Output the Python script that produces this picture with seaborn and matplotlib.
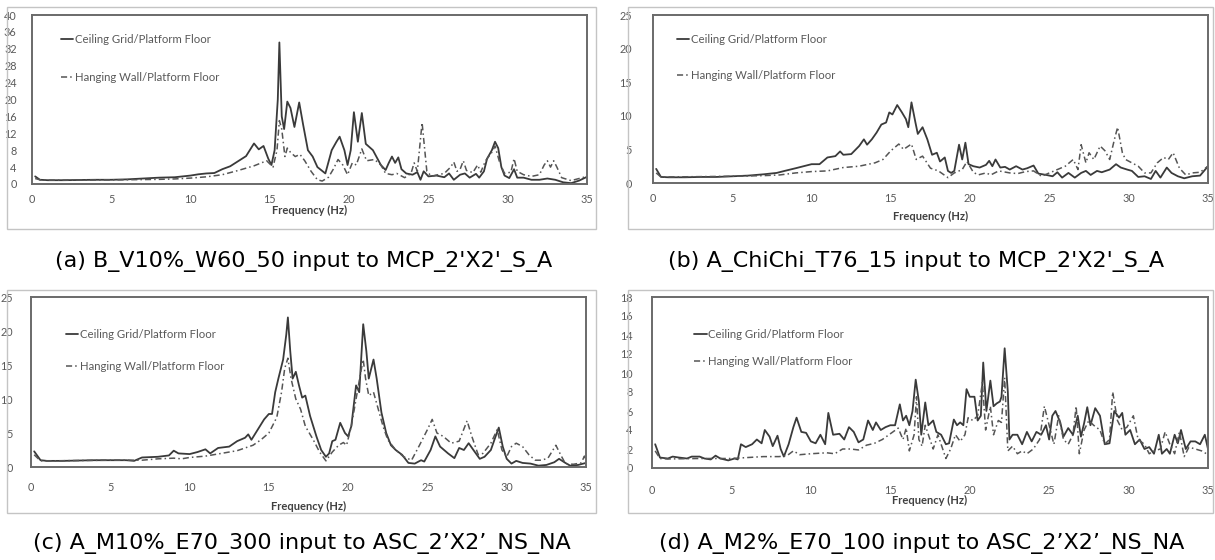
import seaborn as sns
import matplotlib.pyplot as plt
from matplotlib.patches import Rectangle

# --- data (frequency in Hz, transmissibility ratio) ---
a_ceiling_freq = [0.2, 0.5, 1, 2, 3, 4, 5, 6, 7, 8, 9, 10, 10.5, 11, 11.5, 12, 12.5, 13, 13.5, 14,
                  14.3, 14.6, 14.9, 15.1, 15.3, 15.5, 15.6, 15.75, 15.9, 16.1, 16.3, 16.55, 16.85, 17.1, 17.4, 17.7, 18, 18.5, 18.9, 19.2,
                  19.4, 19.7, 19.9, 20.1, 20.3, 20.55, 20.8, 21.05, 21.5, 22, 22.3, 22.5, 22.7, 22.9, 23.1, 23.3, 23.6, 24, 24.3, 24.5,
                  24.7, 25, 25.5, 26, 26.3, 26.6, 27, 27.3, 27.6, 28, 28.2, 28.5, 28.7, 29, 29.2, 29.4, 29.6, 29.8, 30.1, 30.4,
                  30.6, 31, 31.5, 32, 32.5, 33, 33.5, 34, 34.5, 35]
a_ceiling_amp = [1.8, 1.0, 0.9, 0.9, 0.95, 1.0, 1.0, 1.1, 1.3, 1.5, 1.6, 2.0, 2.3, 2.5, 2.6, 3.5, 4.2, 5.4, 6.6, 9.6,
                 8.2, 9.0, 6.0, 4.5, 8.0, 20, 33.5, 16, 13, 19.5, 18, 13.5, 19.3, 14, 8, 6.5, 4, 2.5, 8, 10,
                 11.2, 8, 4.5, 8, 17, 10, 16.8, 9.5, 8, 4.5, 3.3, 5, 6.5, 5, 6.3, 3.5, 2.5, 2.2, 2.8, 1.0,
                 3.0, 1.8, 2.0, 1.6, 2.5, 1.0, 2.2, 2.5, 1.5, 2.4, 1.5, 3.0, 6.0, 8.0, 10, 8.5, 4, 2, 1.4, 3.5,
                 1.5, 1.5, 1.0, 1.0, 1.3, 1.0, 0.4, 0.2, 0.8, 1.7]
a_wall_freq = [0.2, 0.5, 1, 2, 4, 6, 8, 9, 10, 11, 12, 13, 14, 14.8, 15.2, 15.45, 15.6, 15.75, 15.95, 16.1,
               16.3, 16.6, 16.9, 17.2, 17.6, 18, 18.3, 18.7, 19.0, 19.3, 19.6, 19.9, 20.2, 20.45, 20.8, 21.1, 21.6, 22, 22.3, 22.7,
               23, 23.5, 23.9, 24.1, 24.3, 24.6, 24.9, 25.2, 25.6, 26, 26.4, 26.6, 26.8, 27.0, 27.2, 27.4, 27.8, 28.1, 28.3, 28.6,
               29.0, 29.2, 29.5, 29.8, 30.2, 30.4, 30.6, 31, 31.5, 32, 32.3, 32.5, 32.7, 32.9, 33.1, 33.4, 34, 34.5, 35]
a_wall_amp = [1.3, 1.0, 0.9, 0.9, 0.95, 1.0, 1.1, 1.2, 1.4, 1.7, 2.2, 3.2, 4.3, 5.5, 4.0, 8.0, 15.0, 13.0, 6.5, 8.5,
              7.5, 6.5, 7.0, 5.5, 3.0, 1.0, 0.7, 1.6, 3.5, 5.8, 4.5, 2.2, 5.0, 4.5, 8.3, 5.5, 5.8, 4.5, 2.5, 2.2,
              2.5, 1.5, 2.5, 5.0, 3.0, 14.5, 3.0, 1.8, 2.2, 2.5, 4.0, 5.2, 3.0, 3.5, 5.5, 3.2, 2.7, 4.5, 2.8, 5.5,
              7.5, 9.0, 5.0, 2.5, 2.8, 6.0, 3.0, 2.2, 1.8, 2.2, 4.5, 5.5, 4.0, 5.5, 4.0, 1.5, 0.8, 1.3, 1.8]

b_ceiling_freq = [0.2, 0.5, 1, 2, 3, 4, 5, 6, 7, 7.8, 8.3, 9, 9.5, 10, 10.5, 11, 11.5, 11.8, 12.0, 12.5,
                  13, 13.3, 13.5, 13.8, 14.1, 14.4, 14.7, 14.9, 15.1, 15.4, 15.7, 15.95, 16.1, 16.3, 16.55, 16.7, 17, 17.3, 17.6, 17.9,
                  18.1, 18.4, 18.6, 18.8, 19.0, 19.3, 19.5, 19.7, 19.9, 20.2, 20.6, 21, 21.2, 21.4, 21.6, 21.9, 22.2, 22.5, 22.9, 23.3,
                  23.6, 24.0, 24.3, 24.8, 25.2, 25.5, 25.8, 26.2, 26.6, 27, 27.3, 27.6, 28, 28.3, 28.8, 29.2, 29.5, 29.9, 30.2, 30.6,
                  31, 31.4, 31.7, 32.0, 32.4, 32.7, 33.1, 33.5, 34, 34.5, 35]
b_ceiling_amp = [2.1, 0.9, 0.85, 0.85, 0.9, 0.9, 1.0, 1.1, 1.3, 1.5, 1.8, 2.2, 2.5, 2.8, 2.8, 3.8, 4.0, 4.7, 4.2, 4.3,
                 5.5, 6.5, 5.7, 6.5, 7.5, 8.7, 9.0, 10.5, 10.2, 11.6, 10.5, 9.5, 8.3, 12.0, 9.0, 7.3, 8.3, 6.5, 4.2, 4.5,
                 3.2, 3.8, 1.8, 1.5, 1.8, 5.7, 3.5, 6.0, 2.8, 2.5, 2.3, 2.7, 3.3, 2.5, 3.5, 2.3, 2.4, 2.0, 2.5, 2.0,
                 2.2, 2.6, 1.4, 1.2, 1.0, 1.6, 0.8, 1.5, 0.8, 1.5, 1.8, 1.2, 1.8, 1.6, 2.0, 2.8, 2.3, 2.0, 1.8, 0.9,
                 1.0, 0.6, 1.8, 0.8, 2.3, 1.5, 1.0, 0.7, 1.0, 1.1, 2.5]
b_wall_freq = [0.2, 0.5, 1, 3, 5, 7, 8, 9, 10, 11, 12, 13, 14, 14.5, 15, 15.5, 15.8, 16.3, 16.6, 17,
               17.5, 18, 18.6, 19.0, 19.5, 19.8, 20.2, 20.5, 21, 21.3, 21.8, 22.5, 23, 23.5, 24, 24.5, 25, 25.5, 26, 26.5,
               26.8, 27.0, 27.3, 27.5, 27.8, 28.2, 28.5, 28.8, 29.1, 29.3, 29.6, 29.8, 30.2, 30.6, 31.0, 31.4, 31.8, 32.2, 32.5, 32.8,
               33.2, 33.6, 34, 34.5, 35]
b_wall_amp = [1.5, 0.9, 0.9, 0.95, 1.0, 1.1, 1.2, 1.5, 1.7, 1.8, 2.3, 2.5, 3.0, 3.5, 4.8, 5.8, 5.0, 5.8, 3.5, 4.0,
              2.2, 1.8, 0.8, 1.5, 2.0, 3.2, 1.6, 1.2, 1.5, 1.2, 1.8, 1.5, 1.4, 1.7, 1.8, 1.0, 1.5, 2.0, 2.5, 3.5,
              2.0, 5.7, 3.0, 4.5, 3.5, 5.5, 4.8, 3.5, 6.5, 8.3, 4.5, 3.5, 3.0, 2.5, 1.5, 1.5, 3.0, 3.8, 3.5, 4.5,
              2.2, 1.2, 1.5, 1.6, 2.5]

c_ceiling_freq = [0.2, 0.6, 1, 2, 3, 4, 5, 6, 6.5, 7, 8, 8.7, 9, 9.3, 10, 10.5, 11, 11.3, 11.8, 12.5,
                  13, 13.5, 13.7, 13.9, 14.3, 14.7, 15, 15.2, 15.4, 15.6, 15.9, 16.1, 16.2, 16.35, 16.5, 16.7, 16.9, 17.1, 17.3, 17.6,
                  18, 18.3, 18.6, 18.8, 19.0, 19.2, 19.5, 19.8, 20.0, 20.2, 20.5, 20.7, 20.95, 21.15, 21.3, 21.6, 21.8, 22.1, 22.4, 22.7,
                  23, 23.4, 23.8, 24.2, 24.6, 24.8, 25.2, 25.5, 25.8, 26.3, 26.7, 27.0, 27.3, 27.6, 27.9, 28.3, 28.6, 29.0, 29.3, 29.5,
                  29.75, 30.0, 30.3, 30.6, 31, 31.5, 32, 32.5, 33, 33.3, 33.7, 34, 34.5, 35]
c_ceiling_amp = [2.3, 1.0, 0.9, 0.9, 0.95, 1.0, 1.0, 1.0, 0.9, 1.4, 1.5, 1.7, 2.4, 2.0, 1.9, 2.2, 2.6, 2.0, 2.8, 3.0,
                 3.8, 4.3, 4.8, 4.0, 5.5, 7.0, 7.8, 7.8, 11, 13, 15.8, 19.5, 22, 17, 13, 14, 12, 10.2, 10.5, 7.5,
                 4.5, 2.5, 1.5, 2.0, 3.8, 4.0, 6.5, 5.0, 4.5, 6.0, 12, 11, 21, 17, 13, 15.8, 13, 8, 5, 3.2,
                 2.5, 1.8, 0.6, 0.5, 1.0, 0.8, 2.5, 4.5, 3.0, 2.0, 1.3, 2.8, 2.5, 3.5, 2.5, 1.2, 1.5, 2.5, 4.5, 5.8,
                 3.0, 1.2, 0.5, 0.9, 0.6, 0.5, 0.2, 0.3, 0.7, 1.2, 0.6, 0.2, 0.3, 0.6]
c_wall_freq = [0.2, 0.6, 1, 3, 5, 7, 8, 9, 9.5, 10, 11, 12, 13, 14, 14.5, 15, 15.5, 15.8, 16.0, 16.2,
               16.4, 16.7, 17.0, 17.3, 17.8, 18.2, 18.6, 19.0, 19.4, 19.7, 19.9, 20.2, 20.5, 20.8, 20.95, 21.1, 21.3, 21.6, 21.9, 22.2,
               22.5, 23, 23.5, 24, 24.5, 25.0, 25.3, 25.6, 26, 26.5, 27, 27.5, 27.8, 28.2, 28.5, 29, 29.4, 29.7, 30.0, 30.3,
               30.6, 31.0, 31.4, 31.8, 32.2, 32.6, 33.1, 33.4, 33.7, 34.2, 34.7, 34.9, 35]
c_wall_amp = [1.8, 0.9, 0.9, 0.95, 1.0, 1.0, 1.2, 1.3, 1.2, 1.4, 1.6, 2.0, 2.4, 3.2, 4.0, 5.0, 7.3, 11, 14.5, 16,
              13, 10, 8.5, 6, 4, 2.2, 0.9, 2.2, 3.2, 3.6, 3.2, 6, 10, 14, 15.8, 13, 10.5, 11, 8.5, 6,
              4, 2.5, 1.5, 1.0, 3.2, 5.5, 7.0, 5.0, 4.5, 3.5, 3.8, 6.8, 4.5, 1.8, 2.0, 3.5, 5.5, 2.5, 1.5, 3.0,
              3.5, 3.0, 1.8, 1.0, 1.0, 1.3, 3.2, 1.8, 0.5, 0.4, 0.6, 1.6, 0.8]

d_ceiling_freq = [0.2, 0.5, 1, 1.3, 1.7, 2.2, 2.5, 3.0, 3.3, 3.7, 4.0, 4.3, 4.8, 5.2, 5.4, 5.6, 5.9, 6.3, 6.6, 6.9,
                  7.1, 7.4, 7.6, 7.9, 8.1, 8.3, 8.6, 8.9, 9.1, 9.4, 9.7, 10, 10.3, 10.6, 10.9, 11.1, 11.4, 11.8, 12.1, 12.4,
                  12.7, 13.0, 13.3, 13.6, 13.9, 14.1, 14.4, 14.7, 15.0, 15.3, 15.6, 15.8, 16.0, 16.2, 16.4, 16.6, 16.8, 16.95, 17.2, 17.4,
                  17.7, 17.9, 18.2, 18.5, 18.7, 19.0, 19.2, 19.4, 19.6, 19.8, 20.0, 20.3, 20.5, 20.7, 20.85, 21.05, 21.3, 21.5, 21.7, 21.9,
                  22.0, 22.2, 22.4, 22.5, 22.7, 23.0, 23.3, 23.6, 23.9, 24.2, 24.5, 24.8, 25.0, 25.2, 25.4, 25.7, 25.9, 26.2, 26.5, 26.8,
                  27.0, 27.2, 27.4, 27.6, 27.9, 28.2, 28.5, 28.8, 29.1, 29.4, 29.6, 29.8, 30.1, 30.4, 30.7, 31.0, 31.3, 31.6, 31.9, 32.1,
                  32.4, 32.6, 32.9, 33.1, 33.3, 33.6, 33.9, 34.2, 34.5, 34.8, 35]
d_ceiling_amp = [2.5, 1.1, 1.0, 1.2, 1.1, 1.0, 1.2, 1.2, 1.0, 0.9, 1.3, 1.0, 0.8, 1.0, 0.9, 2.5, 2.2, 2.5, 3.0, 2.6,
                 4.0, 3.3, 2.3, 3.4, 2.0, 1.2, 2.5, 4.3, 5.3, 3.8, 3.7, 2.8, 2.6, 3.5, 2.5, 5.8, 3.5, 3.6, 3.0, 4.3,
                 3.8, 2.7, 3.0, 5.0, 4.0, 4.8, 4.0, 4.3, 4.5, 4.5, 6.7, 5.0, 5.5, 4.5, 6.0, 9.3, 7.0, 3.5, 6.9, 4.5,
                 5.0, 3.8, 3.5, 2.5, 2.6, 5.1, 4.5, 4.8, 4.5, 8.3, 7.5, 7.5, 5.0, 5.5, 11.1, 6.0, 9.2, 6.5, 6.8, 7.0,
                 7.5, 12.6, 8.0, 3.0, 3.5, 3.5, 2.5, 3.8, 2.8, 3.8, 3.5, 4.5, 3.0, 5.5, 6.0, 4.8, 3.3, 4.2, 3.5, 5.5,
                 3.3, 4.7, 6.4, 4.5, 6.3, 5.5, 2.5, 2.6, 6.0, 5.3, 5.8, 3.5, 4.0, 2.5, 3.0, 2.0, 2.2, 1.5, 3.5, 1.5,
                 2.0, 1.5, 3.5, 2.6, 4.0, 2.0, 2.8, 2.8, 2.5, 3.5, 2.0]
d_wall_freq = [0.2, 0.5, 1, 3, 5, 6, 7, 8, 8.5, 8.9, 9.3, 10, 11, 11.5, 12, 12.5, 13, 13.5, 14, 14.5,
               15, 15.5, 15.8, 16.0, 16.2, 16.5, 16.65, 16.8, 17.0, 17.2, 17.5, 17.7, 18.0, 18.3, 18.5, 18.8, 19.1, 19.4, 19.7, 19.9,
               20.2, 20.5, 20.8, 21.0, 21.3, 21.5, 21.8, 22.0, 22.2, 22.4, 22.7, 23.0, 23.3, 23.6, 24.0, 24.4, 24.7, 25.0, 25.3, 25.6,
               25.9, 26.2, 26.5, 26.7, 26.9, 27.2, 27.5, 27.8, 28.2, 28.5, 28.8, 29.0, 29.3, 29.6, 29.9, 30.3, 30.6, 31.0, 31.3, 31.6,
               32.0, 32.3, 32.6, 32.9, 33.2, 33.5, 33.8, 34.2, 34.6, 34.9]
d_wall_amp = [1.8, 1.0, 0.95, 1.0, 1.0, 1.1, 1.2, 1.2, 1.3, 1.8, 1.4, 1.5, 1.6, 1.5, 2.0, 2.0, 1.9, 2.4, 2.6, 3.0,
              3.6, 4.2, 3.0, 4.2, 1.8, 3.5, 7.5, 3.0, 2.3, 4.5, 3.0, 2.0, 3.5, 2.0, 1.0, 2.0, 3.5, 2.8, 3.5, 5.3,
              5.0, 5.5, 9.0, 4.0, 6.5, 3.5, 5.0, 4.8, 9.5, 1.8, 2.3, 1.5, 1.8, 1.5, 2.0, 3.0, 6.5, 4.5, 2.5, 5.5,
              3.0, 2.5, 3.5, 6.5, 1.5, 4.0, 5.0, 4.5, 4.0, 2.5, 3.0, 8.0, 5.0, 4.0, 4.3, 5.5, 3.0, 2.5, 1.5, 1.8,
              2.0, 3.8, 2.5, 1.5, 3.8, 1.2, 2.2, 2.0, 1.8, 1.5]

ceiling_label = "Ceiling Grid/Platform Floor"
wall_label = "Hanging Wall/Platform Floor"
captions = ["(a) B_V10%_W60_50 input to MCP_2'X2'_S_A",
            "(b) A_ChiChi_T76_15 input to MCP_2'X2'_S_A",
            "(c) A_M10%_E70_300 input to ASC_2\u2019X2\u2019_NS_NA",
            "(d) A_M2%_E70_100 input to ASC_2\u2019X2\u2019_NS_NA"]
y_max = [40, 25, 25, 18]
y_step = [4, 5, 5, 2]
x_ticks = [0, 5, 10, 15, 20, 25, 30, 35]

sns.set_style("white")
plt.rcParams['font.family'] = ['Lato', 'DejaVu Sans']

W, H = 1215, 560
fig = plt.figure(figsize=(W / 100, H / 100), dpi=100)

# panel geometry in pixels: plot box, outer frame, caption centre, legend anchor, legend spacing, xlabel y
layout = [
    dict(box=(32, 15, 587, 184), frame=(7, 7, 596, 229), cap=(304, 262), leg=(0.052, 0.885), sp=2.35, xl=210, ypad=11, xpad=7),
    dict(box=(653, 15, 1208, 183), frame=(628, 7, 1213, 229), cap=(916, 262), leg=(0.043, 0.885), sp=2.15, xl=216, ypad=15, xpad=7),
    dict(box=(31, 297, 586, 467), frame=(7, 290, 596, 513), cap=(302, 544), leg=(0.063, 0.81), sp=1.8, xl=506, ypad=13, xpad=11),
    dict(box=(652, 297, 1208, 468), frame=(628, 290, 1213, 513), cap=(922, 544), leg=(0.076, 0.815), sp=1.45, xl=500, ypad=14, xpad=12),
]
series = [(a_ceiling_freq, a_ceiling_amp, a_wall_freq, a_wall_amp),
          (b_ceiling_freq, b_ceiling_amp, b_wall_freq, b_wall_amp),
          (c_ceiling_freq, c_ceiling_amp, c_wall_freq, c_wall_amp),
          (d_ceiling_freq, d_ceiling_amp, d_wall_freq, d_wall_amp)]

for i, lay in enumerate(layout):
    l, t, r, b = lay["box"]
    ax = fig.add_axes([l / W, 1 - b / H, (r - l) / W, (b - t) / H])
    fx0, fy0, fx1, fy1 = lay["frame"]
    fig.patches.append(Rectangle((fx0 / W, 1 - fy1 / H), (fx1 - fx0) / W, (fy1 - fy0) / H,
                                 transform=fig.transFigure, fill=False, ec="#c4c4c4", lw=1.0))

    cf, ca, wf, wa = series[i]
    sns.lineplot(x=cf, y=ca, ax=ax, color="#3a3a3a", lw=1.3, label=ceiling_label,
                 estimator=None, sort=False)
    sns.lineplot(x=wf, y=wa, ax=ax, color="#555555", lw=1.1, linestyle=(0, (4, 2, 1, 2)),
                 label=wall_label, estimator=None, sort=False)

    ax.set_xlim(0, 35)
    ax.set_ylim(0, y_max[i])
    ax.set_xticks(x_ticks)
    ax.set_yticks(range(0, y_max[i] + 1, y_step[i]))
    ax.tick_params(axis="both", length=0, labelsize=7.8, labelcolor="#595959")
    ax.tick_params(axis="y", pad=lay["ypad"])
    ax.tick_params(axis="x", pad=lay["xpad"])
    for sp in ax.spines.values():
        sp.set_color("#6a6a6a")
        sp.set_linewidth(1.4)

    ax.set_xlabel("Frequency (Hz)", fontsize=8, fontweight="bold", color="#404040")
    ax.set_ylabel("")
    ax.xaxis.set_label_coords(0.5, -(lay["xl"] - b) / (b - t))
    ax.xaxis.label.set_va("center")

    ax.legend(loc="upper left", bbox_to_anchor=lay["leg"], frameon=False, fontsize=8.2,
              handlelength=1.1, handletextpad=0.15, labelspacing=lay["sp"], borderpad=0,
              borderaxespad=0, labelcolor="#595959")

    cx, cy = lay["cap"]
    fig.text(cx / W, 1 - cy / H, captions[i], fontsize=16, family="DejaVu Sans",
             ha="center", va="center", color="black")

fig.savefig("out.png", dpi=100, facecolor="white")
